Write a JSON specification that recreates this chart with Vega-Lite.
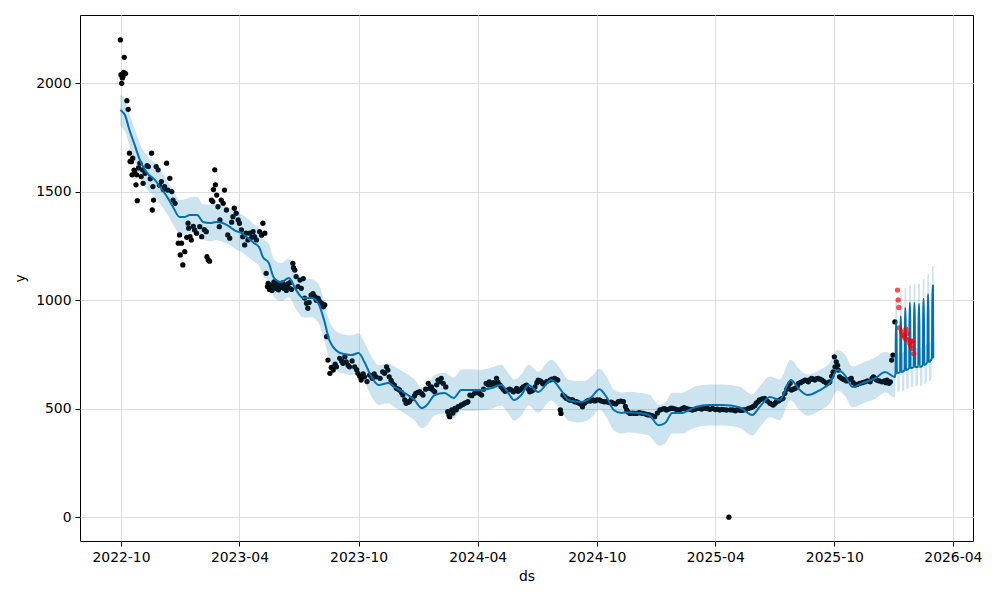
{
"$schema": "https://vega.github.io/schema/vega-lite/v6.json",
"width": 893, "height": 526,
"autosize": {"type": "none"},
"padding": {"left": 80, "top": 15, "right": 27, "bottom": 59},
"background": "white",
"config": {
  "view": {"stroke": "black", "strokeWidth": 1},
  "font": "DejaVu Sans",
  "axis": {"domain": false, "grid": true, "gridColor": "#dedede", "gridWidth": 1, "tickColor": "black", "tickSize": 5, "tickWidth": 1, "labelFont": "DejaVu Sans", "labelFontSize": 13.9, "labelColor": "black", "titleFont": "DejaVu Sans", "titleFontSize": 13.9, "titleFontWeight": "normal", "titleColor": "black", "labelPadding": 4}
},
"datasets": {
"hist": [
{"ds":"2022-09-30","y":2200},{"ds":"2022-10-01","y":2040},{"ds":"2022-10-02","y":2000},{"ds":"2022-10-03","y":2025},{"ds":"2022-10-04","y":2030},{"ds":"2022-10-05","y":2050},{"ds":"2022-10-06","y":2120},{"ds":"2022-10-08","y":2045},{"ds":"2022-10-10","y":1920},{"ds":"2022-10-12","y":1880},
{"ds":"2022-10-14","y":1678},{"ds":"2022-10-15","y":1640},{"ds":"2022-10-17","y":1639},{"ds":"2022-10-18","y":1578},{"ds":"2022-10-19","y":1655},{"ds":"2022-10-21","y":1600},{"ds":"2022-10-22","y":1593},{"ds":"2022-10-24","y":1532},{"ds":"2022-10-25","y":1578},{"ds":"2022-10-26","y":1459},{"ds":"2022-10-28","y":1610},{"ds":"2022-10-30","y":1632},
{"ds":"2022-11-01","y":1570},{"ds":"2022-11-03","y":1601},{"ds":"2022-11-04","y":1539},{"ds":"2022-11-07","y":1585},{"ds":"2022-11-10","y":1620},{"ds":"2022-11-12","y":1616},{"ds":"2022-11-15","y":1560},{"ds":"2022-11-17","y":1678},{"ds":"2022-11-18","y":1416},{"ds":"2022-11-19","y":1524},{"ds":"2022-11-20","y":1462},{"ds":"2022-11-24","y":1616},{"ds":"2022-11-27","y":1601},{"ds":"2022-11-29","y":1530},
{"ds":"2022-12-02","y":1547},{"ds":"2022-12-05","y":1510},{"ds":"2022-12-07","y":1524},{"ds":"2022-12-10","y":1632},{"ds":"2022-12-12","y":1508},{"ds":"2022-12-15","y":1562},{"ds":"2022-12-18","y":1501},{"ds":"2022-12-20","y":1462},{"ds":"2022-12-23","y":1447},{"ds":"2022-12-28","y":1263},{"ds":"2022-12-30","y":1301},{"ds":"2022-12-31","y":1209},
{"ds":"2023-01-02","y":1263},{"ds":"2023-01-04","y":1163},{"ds":"2023-01-07","y":1224},{"ds":"2023-01-10","y":1290},{"ds":"2023-01-12","y":1355},{"ds":"2023-01-13","y":1332},{"ds":"2023-01-15","y":1293},{"ds":"2023-01-17","y":1278},{"ds":"2023-01-20","y":1340},{"ds":"2023-01-22","y":1324},{"ds":"2023-01-25","y":1309},{"ds":"2023-01-30","y":1339},
{"ds":"2023-02-02","y":1293},{"ds":"2023-02-06","y":1325},{"ds":"2023-02-09","y":1316},{"ds":"2023-02-10","y":1201},{"ds":"2023-02-12","y":1186},{"ds":"2023-02-14","y":1180},{"ds":"2023-02-17","y":1462},{"ds":"2023-02-19","y":1455},{"ds":"2023-02-20","y":1510},{"ds":"2023-02-22","y":1601},{"ds":"2023-02-23","y":1532},{"ds":"2023-02-25","y":1485},{"ds":"2023-02-27","y":1431},
{"ds":"2023-03-01","y":1339},{"ds":"2023-03-02","y":1370},{"ds":"2023-03-04","y":1462},{"ds":"2023-03-07","y":1447},{"ds":"2023-03-09","y":1508},{"ds":"2023-03-12","y":1416},{"ds":"2023-03-14","y":1301},{"ds":"2023-03-17","y":1286},{"ds":"2023-03-20","y":1360},{"ds":"2023-03-22","y":1385},{"ds":"2023-03-24","y":1424},{"ds":"2023-03-27","y":1401},{"ds":"2023-03-30","y":1370},
{"ds":"2023-04-01","y":1355},{"ds":"2023-04-04","y":1324},{"ds":"2023-04-06","y":1293},{"ds":"2023-04-09","y":1255},{"ds":"2023-04-11","y":1309},{"ds":"2023-04-14","y":1278},{"ds":"2023-04-17","y":1309},{"ds":"2023-04-20","y":1290},{"ds":"2023-04-22","y":1316},{"ds":"2023-04-24","y":1293},{"ds":"2023-04-27","y":1278},
{"ds":"2023-05-02","y":1316},{"ds":"2023-05-05","y":1300},{"ds":"2023-05-07","y":1355},{"ds":"2023-05-10","y":1309},{"ds":"2023-05-12","y":1124},{"ds":"2023-05-14","y":1063},{"ds":"2023-05-15","y":1078},{"ds":"2023-05-17","y":1050},{"ds":"2023-05-19","y":1070},{"ds":"2023-05-21","y":1045},{"ds":"2023-05-22","y":1063},{"ds":"2023-05-24","y":1085},{"ds":"2023-05-26","y":1055},{"ds":"2023-05-27","y":1078},{"ds":"2023-05-29","y":1068},{"ds":"2023-05-31","y":1048},
{"ds":"2023-06-02","y":1072},{"ds":"2023-06-04","y":1060},{"ds":"2023-06-06","y":1080},{"ds":"2023-06-08","y":1055},{"ds":"2023-06-10","y":1066},{"ds":"2023-06-12","y":1045},{"ds":"2023-06-14","y":1075},{"ds":"2023-06-16","y":1058},{"ds":"2023-06-18","y":1082},{"ds":"2023-06-20","y":1050},{"ds":"2023-06-22","y":1170},{"ds":"2023-06-23","y":1150},{"ds":"2023-06-25","y":1139},{"ds":"2023-06-27","y":1109},{"ds":"2023-06-30","y":1063},
{"ds":"2023-07-03","y":1093},{"ds":"2023-07-05","y":1055},{"ds":"2023-07-08","y":1100},{"ds":"2023-07-10","y":1010},{"ds":"2023-07-13","y":986},{"ds":"2023-07-15","y":963},{"ds":"2023-07-17","y":990},{"ds":"2023-07-20","y":1024},{"ds":"2023-07-23","y":1030},{"ds":"2023-07-26","y":1016},{"ds":"2023-07-28","y":1000},{"ds":"2023-07-31","y":1009},
{"ds":"2023-08-02","y":995},{"ds":"2023-08-05","y":986},{"ds":"2023-08-08","y":970},{"ds":"2023-08-10","y":978},{"ds":"2023-08-13","y":832},{"ds":"2023-08-15","y":724},{"ds":"2023-08-18","y":663},{"ds":"2023-08-20","y":690},{"ds":"2023-08-23","y":678},{"ds":"2023-08-26","y":705},{"ds":"2023-08-28","y":693},
{"ds":"2023-09-02","y":732},{"ds":"2023-09-05","y":720},{"ds":"2023-09-07","y":709},{"ds":"2023-09-10","y":740},{"ds":"2023-09-12","y":716},{"ds":"2023-09-15","y":700},{"ds":"2023-09-17","y":693},{"ds":"2023-09-21","y":720},{"ds":"2023-09-25","y":693},{"ds":"2023-09-28","y":680},{"ds":"2023-09-30","y":663},
{"ds":"2023-10-03","y":650},{"ds":"2023-10-05","y":632},{"ds":"2023-10-08","y":660},{"ds":"2023-10-10","y":647},{"ds":"2023-10-14","y":625},{"ds":"2023-10-18","y":655},{"ds":"2023-10-22","y":640},{"ds":"2023-10-25","y":660},{"ds":"2023-10-28","y":647},
{"ds":"2023-11-03","y":640},{"ds":"2023-11-07","y":670},{"ds":"2023-11-10","y":663},{"ds":"2023-11-13","y":693},{"ds":"2023-11-15","y":678},{"ds":"2023-11-17","y":647},{"ds":"2023-11-20","y":630},{"ds":"2023-11-22","y":617},{"ds":"2023-11-25","y":609},{"ds":"2023-11-28","y":594},
{"ds":"2023-12-01","y":590},{"ds":"2023-12-03","y":586},{"ds":"2023-12-06","y":575},{"ds":"2023-12-08","y":563},{"ds":"2023-12-11","y":540},{"ds":"2023-12-13","y":525},{"ds":"2023-12-16","y":530},{"ds":"2023-12-18","y":532},{"ds":"2023-12-21","y":545},{"ds":"2023-12-23","y":548},{"ds":"2023-12-26","y":560},{"ds":"2023-12-28","y":571},{"ds":"2023-12-31","y":575},
{"ds":"2024-01-03","y":578},{"ds":"2024-01-06","y":570},{"ds":"2024-01-08","y":563},{"ds":"2024-01-12","y":590},{"ds":"2024-01-16","y":617},{"ds":"2024-01-18","y":594},{"ds":"2024-01-21","y":600},{"ds":"2024-01-23","y":586},{"ds":"2024-01-26","y":578},{"ds":"2024-01-29","y":610},{"ds":"2024-01-31","y":632},
{"ds":"2024-02-03","y":625},{"ds":"2024-02-05","y":640},{"ds":"2024-02-08","y":617},{"ds":"2024-02-12","y":600},{"ds":"2024-02-15","y":486},{"ds":"2024-02-17","y":470},{"ds":"2024-02-18","y":463},{"ds":"2024-02-21","y":494},{"ds":"2024-02-23","y":480},{"ds":"2024-02-26","y":501},{"ds":"2024-02-28","y":495},
{"ds":"2024-03-02","y":509},{"ds":"2024-03-05","y":512},{"ds":"2024-03-07","y":517},{"ds":"2024-03-10","y":520},{"ds":"2024-03-12","y":525},{"ds":"2024-03-15","y":528},{"ds":"2024-03-17","y":532},{"ds":"2024-03-20","y":563},{"ds":"2024-03-23","y":560},{"ds":"2024-03-27","y":571},{"ds":"2024-03-30","y":575},
{"ds":"2024-04-01","y":578},{"ds":"2024-04-04","y":570},{"ds":"2024-04-07","y":563},{"ds":"2024-04-10","y":590},{"ds":"2024-04-14","y":617},{"ds":"2024-04-17","y":610},{"ds":"2024-04-19","y":624},{"ds":"2024-04-22","y":610},{"ds":"2024-04-25","y":620},{"ds":"2024-04-27","y":617},{"ds":"2024-04-30","y":640},
{"ds":"2024-05-02","y":624},{"ds":"2024-05-05","y":610},{"ds":"2024-05-07","y":601},{"ds":"2024-05-10","y":590},{"ds":"2024-05-13","y":580},{"ds":"2024-05-17","y":585},{"ds":"2024-05-20","y":590},{"ds":"2024-05-23","y":586},{"ds":"2024-05-26","y":578},{"ds":"2024-05-31","y":594},
{"ds":"2024-06-02","y":580},{"ds":"2024-06-05","y":586},{"ds":"2024-06-08","y":595},{"ds":"2024-06-10","y":601},{"ds":"2024-06-13","y":605},{"ds":"2024-06-15","y":609},{"ds":"2024-06-18","y":590},{"ds":"2024-06-20","y":578},{"ds":"2024-06-23","y":582},{"ds":"2024-06-25","y":586},{"ds":"2024-06-28","y":600},
{"ds":"2024-07-01","y":620},{"ds":"2024-07-03","y":632},{"ds":"2024-07-06","y":628},{"ds":"2024-07-08","y":624},{"ds":"2024-07-10","y":615},{"ds":"2024-07-13","y":617},{"ds":"2024-07-16","y":625},{"ds":"2024-07-21","y":632},{"ds":"2024-07-24","y":636},{"ds":"2024-07-28","y":640},{"ds":"2024-07-31","y":635},
{"ds":"2024-08-02","y":632},{"ds":"2024-08-06","y":494},{"ds":"2024-08-07","y":478},{"ds":"2024-08-10","y":563},{"ds":"2024-08-13","y":555},{"ds":"2024-08-15","y":548},{"ds":"2024-08-18","y":545},{"ds":"2024-08-20","y":540},{"ds":"2024-08-23","y":540},{"ds":"2024-08-25","y":540},{"ds":"2024-08-28","y":532},{"ds":"2024-08-31","y":532},
{"ds":"2024-09-02","y":528},{"ds":"2024-09-04","y":525},{"ds":"2024-09-07","y":520},{"ds":"2024-09-09","y":509},{"ds":"2024-09-12","y":525},{"ds":"2024-09-15","y":532},{"ds":"2024-09-18","y":538},{"ds":"2024-09-21","y":535},{"ds":"2024-09-25","y":540},{"ds":"2024-09-28","y":536},
{"ds":"2024-10-01","y":540},{"ds":"2024-10-05","y":540},{"ds":"2024-10-08","y":535},{"ds":"2024-10-12","y":532},{"ds":"2024-10-16","y":532},{"ds":"2024-10-20","y":528},{"ds":"2024-10-23","y":530},{"ds":"2024-10-26","y":525},{"ds":"2024-10-30","y":522},
{"ds":"2024-11-03","y":532},{"ds":"2024-11-07","y":535},{"ds":"2024-11-11","y":532},{"ds":"2024-11-14","y":510},{"ds":"2024-11-16","y":494},{"ds":"2024-11-18","y":485},{"ds":"2024-11-21","y":478},{"ds":"2024-11-25","y":480},{"ds":"2024-11-28","y":478},
{"ds":"2024-12-01","y":478},{"ds":"2024-12-05","y":482},{"ds":"2024-12-08","y":480},{"ds":"2024-12-11","y":478},{"ds":"2024-12-15","y":475},{"ds":"2024-12-18","y":472},{"ds":"2024-12-21","y":471},{"ds":"2024-12-25","y":468},{"ds":"2024-12-29","y":463},
{"ds":"2025-01-02","y":480},{"ds":"2025-01-06","y":494},{"ds":"2025-01-10","y":498},{"ds":"2025-01-13","y":500},{"ds":"2025-01-16","y":494},{"ds":"2025-01-20","y":498},{"ds":"2025-01-23","y":503},{"ds":"2025-01-26","y":501},{"ds":"2025-01-30","y":498},
{"ds":"2025-02-02","y":495},{"ds":"2025-02-05","y":494},{"ds":"2025-02-09","y":500},{"ds":"2025-02-12","y":505},{"ds":"2025-02-15","y":501},{"ds":"2025-02-19","y":498},{"ds":"2025-02-22","y":496},{"ds":"2025-02-25","y":494},
{"ds":"2025-03-01","y":497},{"ds":"2025-03-04","y":501},{"ds":"2025-03-08","y":501},{"ds":"2025-03-11","y":498},{"ds":"2025-03-14","y":503},{"ds":"2025-03-18","y":501},{"ds":"2025-03-21","y":500},{"ds":"2025-03-24","y":497},{"ds":"2025-03-28","y":501},
{"ds":"2025-04-01","y":496},{"ds":"2025-04-04","y":498},{"ds":"2025-04-08","y":494},{"ds":"2025-04-11","y":497},{"ds":"2025-04-14","y":496},{"ds":"2025-04-18","y":494},{"ds":"2025-04-22","y":0},{"ds":"2025-04-24","y":495},{"ds":"2025-04-28","y":494},
{"ds":"2025-05-02","y":490},{"ds":"2025-05-05","y":496},{"ds":"2025-05-08","y":494},{"ds":"2025-05-11","y":492},{"ds":"2025-05-14","y":494},{"ds":"2025-05-18","y":496},{"ds":"2025-05-22","y":501},{"ds":"2025-05-26","y":505},{"ds":"2025-05-29","y":509},
{"ds":"2025-06-01","y":515},{"ds":"2025-06-03","y":525},{"ds":"2025-06-06","y":532},{"ds":"2025-06-08","y":540},{"ds":"2025-06-12","y":545},{"ds":"2025-06-16","y":548},{"ds":"2025-06-20","y":535},{"ds":"2025-06-24","y":525},{"ds":"2025-06-27","y":520},{"ds":"2025-06-29","y":517},
{"ds":"2025-07-02","y":525},{"ds":"2025-07-04","y":532},{"ds":"2025-07-07","y":536},{"ds":"2025-07-09","y":540},{"ds":"2025-07-12","y":545},{"ds":"2025-07-14","y":548},{"ds":"2025-07-17","y":571},{"ds":"2025-07-20","y":590},{"ds":"2025-07-22","y":601},{"ds":"2025-07-25","y":617},{"ds":"2025-07-27","y":586},{"ds":"2025-07-30","y":590},
{"ds":"2025-08-02","y":594},{"ds":"2025-08-05","y":605},{"ds":"2025-08-07","y":617},{"ds":"2025-08-10","y":620},{"ds":"2025-08-12","y":624},{"ds":"2025-08-15","y":628},{"ds":"2025-08-17","y":632},{"ds":"2025-08-20","y":630},{"ds":"2025-08-22","y":624},{"ds":"2025-08-25","y":635},{"ds":"2025-08-27","y":640},{"ds":"2025-08-30","y":636},
{"ds":"2025-09-01","y":632},{"ds":"2025-09-04","y":638},{"ds":"2025-09-06","y":640},{"ds":"2025-09-09","y":636},{"ds":"2025-09-12","y":632},{"ds":"2025-09-15","y":625},{"ds":"2025-09-19","y":617},{"ds":"2025-09-22","y":620},{"ds":"2025-09-24","y":624},{"ds":"2025-09-27","y":650},{"ds":"2025-09-29","y":670},
{"ds":"2025-10-01","y":739},{"ds":"2025-10-02","y":693},{"ds":"2025-10-04","y":716},{"ds":"2025-10-06","y":700},{"ds":"2025-10-07","y":678},{"ds":"2025-10-09","y":647},{"ds":"2025-10-12","y":640},{"ds":"2025-10-15","y":635},{"ds":"2025-10-17","y":632},{"ds":"2025-10-20","y":628},{"ds":"2025-10-22","y":632},{"ds":"2025-10-25","y":636},{"ds":"2025-10-27","y":640},{"ds":"2025-10-30","y":620},
{"ds":"2025-11-02","y":609},{"ds":"2025-11-05","y":612},{"ds":"2025-11-09","y":617},{"ds":"2025-11-13","y":620},{"ds":"2025-11-17","y":624},{"ds":"2025-11-21","y":628},{"ds":"2025-11-25","y":624},{"ds":"2025-11-28","y":640},{"ds":"2025-11-30","y":647},
{"ds":"2025-12-03","y":640},{"ds":"2025-12-05","y":632},{"ds":"2025-12-09","y":628},{"ds":"2025-12-13","y":624},{"ds":"2025-12-17","y":628},{"ds":"2025-12-19","y":620},{"ds":"2025-12-21","y":632},{"ds":"2025-12-24","y":617},{"ds":"2025-12-26","y":624},{"ds":"2025-12-28","y":724},{"ds":"2025-12-30","y":747},{"ds":"2026-01-02","y":900}
],
"fc": [
{"ds":"2022-09-30","yhat":1877},{"ds":"2022-10-02","yhat":1872},{"ds":"2022-10-07","yhat":1854},{"ds":"2022-10-14","yhat":1785},{"ds":"2022-10-22","yhat":1716},{"ds":"2022-10-30","yhat":1647},
{"ds":"2022-11-10","yhat":1587},{"ds":"2022-11-22","yhat":1555},{"ds":"2022-11-30","yhat":1522},{"ds":"2022-12-11","yhat":1476},{"ds":"2022-12-20","yhat":1430},{"ds":"2022-12-30","yhat":1384},
{"ds":"2023-01-07","yhat":1384},{"ds":"2023-01-15","yhat":1393},{"ds":"2023-01-26","yhat":1393},{"ds":"2023-02-04","yhat":1361},{"ds":"2023-02-15","yhat":1356},{"ds":"2023-02-24","yhat":1361},
{"ds":"2023-03-06","yhat":1356},{"ds":"2023-03-15","yhat":1343},{"ds":"2023-03-26","yhat":1320},{"ds":"2023-04-04","yhat":1310},{"ds":"2023-04-14","yhat":1287},{"ds":"2023-04-23","yhat":1264},
{"ds":"2023-05-01","yhat":1246},{"ds":"2023-05-07","yhat":1199},{"ds":"2023-05-16","yhat":1172},{"ds":"2023-05-24","yhat":1103},{"ds":"2023-06-04","yhat":1084},{"ds":"2023-06-16","yhat":1103},
{"ds":"2023-06-27","yhat":1047},{"ds":"2023-07-08","yhat":1010},{"ds":"2023-07-20","yhat":1010},{"ds":"2023-07-31","yhat":987},{"ds":"2023-08-09","yhat":909},{"ds":"2023-08-17","yhat":817},
{"ds":"2023-08-31","yhat":761},{"ds":"2023-09-09","yhat":752},{"ds":"2023-09-20","yhat":747},{"ds":"2023-10-01","yhat":757},{"ds":"2023-10-10","yhat":715},{"ds":"2023-10-21","yhat":646},
{"ds":"2023-11-01","yhat":609},{"ds":"2023-11-16","yhat":618},{"ds":"2023-11-25","yhat":600},{"ds":"2023-12-11","yhat":572},{"ds":"2023-12-26","yhat":540},
{"ds":"2024-01-06","yhat":503},{"ds":"2024-01-14","yhat":517},{"ds":"2024-01-26","yhat":563},{"ds":"2024-02-10","yhat":572},{"ds":"2024-02-24","yhat":549},{"ds":"2024-03-07","yhat":586},
{"ds":"2024-03-22","yhat":586},{"ds":"2024-04-06","yhat":586},{"ds":"2024-04-22","yhat":595},{"ds":"2024-05-07","yhat":609},{"ds":"2024-05-18","yhat":572},{"ds":"2024-05-27","yhat":540},
{"ds":"2024-06-07","yhat":563},{"ds":"2024-06-18","yhat":609},{"ds":"2024-07-03","yhat":577},{"ds":"2024-07-23","yhat":632},{"ds":"2024-08-07","yhat":586},{"ds":"2024-08-18","yhat":540},
{"ds":"2024-09-07","yhat":531},{"ds":"2024-09-23","yhat":554},{"ds":"2024-10-05","yhat":590},{"ds":"2024-10-16","yhat":554},{"ds":"2024-10-27","yhat":494},{"ds":"2024-11-08","yhat":480},
{"ds":"2024-11-19","yhat":484},{"ds":"2024-12-04","yhat":480},{"ds":"2024-12-20","yhat":471},{"ds":"2025-01-04","yhat":424},{"ds":"2025-01-14","yhat":434},{"ds":"2025-01-25","yhat":480},
{"ds":"2025-02-09","yhat":480},{"ds":"2025-02-20","yhat":494},{"ds":"2025-03-01","yhat":507},{"ds":"2025-03-23","yhat":517},{"ds":"2025-04-12","yhat":517},{"ds":"2025-05-08","yhat":507},
{"ds":"2025-05-28","yhat":471},{"ds":"2025-06-08","yhat":507},{"ds":"2025-06-24","yhat":554},{"ds":"2025-07-09","yhat":540},{"ds":"2025-07-26","yhat":632},{"ds":"2025-08-09","yhat":586},
{"ds":"2025-08-21","yhat":563},{"ds":"2025-09-09","yhat":586},{"ds":"2025-09-24","yhat":618},{"ds":"2025-10-06","yhat":678},{"ds":"2025-10-17","yhat":655},{"ds":"2025-10-29","yhat":600},
{"ds":"2025-11-13","yhat":618},{"ds":"2025-12-03","yhat":641},{"ds":"2025-12-18","yhat":669},{"ds":"2026-01-02","yhat":646},
{"ds":"2026-01-03T00:00:00Z","yhat":664},{"ds":"2026-01-03T12:00:00Z","yhat":901},{"ds":"2026-01-04T12:00:00Z","yhat":901},{"ds":"2026-01-05T00:00:00Z","yhat":664},
{"ds":"2026-01-10T00:00:00Z","yhat":669},{"ds":"2026-01-10T12:00:00Z","yhat":924},{"ds":"2026-01-11T12:00:00Z","yhat":924},{"ds":"2026-01-12T00:00:00Z","yhat":669},
{"ds":"2026-01-17T00:00:00Z","yhat":678},{"ds":"2026-01-17T12:00:00Z","yhat":963},{"ds":"2026-01-18T12:00:00Z","yhat":963},{"ds":"2026-01-19T00:00:00Z","yhat":678},
{"ds":"2026-01-24T00:00:00Z","yhat":687},{"ds":"2026-01-24T12:00:00Z","yhat":986},{"ds":"2026-01-25T12:00:00Z","yhat":986},{"ds":"2026-01-26T00:00:00Z","yhat":687},
{"ds":"2026-01-31T00:00:00Z","yhat":692},{"ds":"2026-01-31T12:00:00Z","yhat":986},{"ds":"2026-02-01T12:00:00Z","yhat":986},{"ds":"2026-02-02T00:00:00Z","yhat":692},
{"ds":"2026-02-07T00:00:00Z","yhat":692},{"ds":"2026-02-07T12:00:00Z","yhat":981},{"ds":"2026-02-08T12:00:00Z","yhat":981},{"ds":"2026-02-09T00:00:00Z","yhat":692},
{"ds":"2026-02-14T00:00:00Z","yhat":701},{"ds":"2026-02-14T12:00:00Z","yhat":1006},{"ds":"2026-02-15T12:00:00Z","yhat":1006},{"ds":"2026-02-16T00:00:00Z","yhat":701},
{"ds":"2026-02-21T00:00:00Z","yhat":715},{"ds":"2026-02-21T12:00:00Z","yhat":1027},{"ds":"2026-02-22T12:00:00Z","yhat":1027},{"ds":"2026-02-23T00:00:00Z","yhat":715},
{"ds":"2026-02-28T00:00:00Z","yhat":733},{"ds":"2026-02-28T12:00:00Z","yhat":1067},{"ds":"2026-03-01T12:00:00Z","yhat":1067},{"ds":"2026-03-02T00:00:00Z","yhat":733}
],
"band": [
{"ds":"2022-09-30","lo":1805,"hi":1948},{"ds":"2022-10-02","lo":1798,"hi":1942},{"ds":"2022-10-07","lo":1780,"hi":1925},{"ds":"2022-10-14","lo":1712,"hi":1858},{"ds":"2022-10-22","lo":1640,"hi":1790},{"ds":"2022-10-30","lo":1572,"hi":1722},
{"ds":"2022-11-10","lo":1510,"hi":1665},{"ds":"2022-11-22","lo":1478,"hi":1632},{"ds":"2022-11-30","lo":1445,"hi":1600},{"ds":"2022-12-11","lo":1398,"hi":1552},{"ds":"2022-12-20","lo":1350,"hi":1508},{"ds":"2022-12-30","lo":1305,"hi":1462},
{"ds":"2023-01-07","lo":1302,"hi":1465},{"ds":"2023-01-15","lo":1310,"hi":1474},{"ds":"2023-01-26","lo":1312,"hi":1476},{"ds":"2023-02-04","lo":1280,"hi":1442},{"ds":"2023-02-15","lo":1272,"hi":1440},{"ds":"2023-02-24","lo":1276,"hi":1446},
{"ds":"2023-03-06","lo":1270,"hi":1440},{"ds":"2023-03-15","lo":1258,"hi":1428},{"ds":"2023-03-26","lo":1235,"hi":1404},{"ds":"2023-04-04","lo":1222,"hi":1396},{"ds":"2023-04-14","lo":1200,"hi":1374},{"ds":"2023-04-23","lo":1178,"hi":1350},
{"ds":"2023-05-01","lo":1160,"hi":1334},{"ds":"2023-05-07","lo":1112,"hi":1285},{"ds":"2023-05-16","lo":1085,"hi":1260},{"ds":"2023-05-24","lo":1015,"hi":1190},{"ds":"2023-06-04","lo":996,"hi":1172},{"ds":"2023-06-16","lo":1014,"hi":1192},
{"ds":"2023-06-27","lo":958,"hi":1135},{"ds":"2023-07-08","lo":920,"hi":1100},{"ds":"2023-07-20","lo":922,"hi":1098},{"ds":"2023-07-31","lo":898,"hi":1076},{"ds":"2023-08-09","lo":820,"hi":998},{"ds":"2023-08-17","lo":728,"hi":906},
{"ds":"2023-08-31","lo":672,"hi":850},{"ds":"2023-09-09","lo":662,"hi":842},{"ds":"2023-09-20","lo":655,"hi":838},{"ds":"2023-10-01","lo":666,"hi":848},{"ds":"2023-10-10","lo":624,"hi":806},{"ds":"2023-10-21","lo":555,"hi":738},
{"ds":"2023-11-01","lo":518,"hi":700},{"ds":"2023-11-16","lo":525,"hi":710},{"ds":"2023-11-25","lo":508,"hi":694},{"ds":"2023-12-11","lo":478,"hi":666},{"ds":"2023-12-26","lo":446,"hi":634},
{"ds":"2024-01-06","lo":410,"hi":596},{"ds":"2024-01-14","lo":424,"hi":610},{"ds":"2024-01-26","lo":470,"hi":656},{"ds":"2024-02-10","lo":478,"hi":666},{"ds":"2024-02-24","lo":455,"hi":643},{"ds":"2024-03-07","lo":492,"hi":680},
{"ds":"2024-03-22","lo":490,"hi":682},{"ds":"2024-04-06","lo":492,"hi":680},{"ds":"2024-04-22","lo":500,"hi":690},{"ds":"2024-05-07","lo":515,"hi":703},{"ds":"2024-05-18","lo":478,"hi":666},{"ds":"2024-05-27","lo":446,"hi":634},
{"ds":"2024-06-07","lo":468,"hi":658},{"ds":"2024-06-18","lo":515,"hi":703},{"ds":"2024-07-03","lo":482,"hi":672},{"ds":"2024-07-23","lo":538,"hi":726},{"ds":"2024-08-07","lo":490,"hi":680},{"ds":"2024-08-18","lo":446,"hi":634},
{"ds":"2024-09-07","lo":436,"hi":626},{"ds":"2024-09-23","lo":460,"hi":648},{"ds":"2024-10-05","lo":496,"hi":684},{"ds":"2024-10-16","lo":460,"hi":648},{"ds":"2024-10-27","lo":400,"hi":588},{"ds":"2024-11-08","lo":386,"hi":574},
{"ds":"2024-11-19","lo":390,"hi":578},{"ds":"2024-12-04","lo":386,"hi":574},{"ds":"2024-12-20","lo":376,"hi":566},{"ds":"2025-01-04","lo":330,"hi":518},{"ds":"2025-01-14","lo":340,"hi":528},{"ds":"2025-01-25","lo":386,"hi":574},
{"ds":"2025-02-09","lo":386,"hi":574},{"ds":"2025-02-20","lo":400,"hi":588},{"ds":"2025-03-01","lo":412,"hi":602},{"ds":"2025-03-23","lo":422,"hi":612},{"ds":"2025-04-12","lo":422,"hi":612},{"ds":"2025-05-08","lo":412,"hi":602},
{"ds":"2025-05-28","lo":376,"hi":566},{"ds":"2025-06-08","lo":412,"hi":602},{"ds":"2025-06-24","lo":460,"hi":648},{"ds":"2025-07-09","lo":446,"hi":634},{"ds":"2025-07-26","lo":538,"hi":726},{"ds":"2025-08-09","lo":492,"hi":680},
{"ds":"2025-08-21","lo":468,"hi":658},{"ds":"2025-09-09","lo":492,"hi":680},{"ds":"2025-09-24","lo":524,"hi":712},{"ds":"2025-10-06","lo":584,"hi":772},{"ds":"2025-10-17","lo":560,"hi":750},{"ds":"2025-10-29","lo":506,"hi":694},
{"ds":"2025-11-13","lo":524,"hi":712},{"ds":"2025-12-03","lo":546,"hi":736},{"ds":"2025-12-18","lo":575,"hi":763},{"ds":"2026-01-02","lo":552,"hi":740},
{"ds":"2026-01-02T12:00:00Z","lo":576,"hi":752},{"ds":"2026-01-03T00:00:00Z","lo":811,"hi":996},{"ds":"2026-01-05T12:00:00Z","lo":811,"hi":996},{"ds":"2026-01-06T00:00:00Z","lo":576,"hi":752},
{"ds":"2026-01-09T12:00:00Z","lo":581,"hi":757},{"ds":"2026-01-10T00:00:00Z","lo":834,"hi":1030},{"ds":"2026-01-12T12:00:00Z","lo":834,"hi":1030},{"ds":"2026-01-13T00:00:00Z","lo":581,"hi":757},
{"ds":"2026-01-16T12:00:00Z","lo":590,"hi":766},{"ds":"2026-01-17T00:00:00Z","lo":873,"hi":1056},{"ds":"2026-01-19T12:00:00Z","lo":873,"hi":1056},{"ds":"2026-01-20T00:00:00Z","lo":590,"hi":766},
{"ds":"2026-01-23T12:00:00Z","lo":599,"hi":775},{"ds":"2026-01-24T00:00:00Z","lo":896,"hi":1070},{"ds":"2026-01-26T12:00:00Z","lo":896,"hi":1070},{"ds":"2026-01-27T00:00:00Z","lo":599,"hi":775},
{"ds":"2026-01-30T12:00:00Z","lo":604,"hi":780},{"ds":"2026-01-31T00:00:00Z","lo":896,"hi":1075},{"ds":"2026-02-02T12:00:00Z","lo":896,"hi":1075},{"ds":"2026-02-03T00:00:00Z","lo":604,"hi":780},
{"ds":"2026-02-06T12:00:00Z","lo":604,"hi":780},{"ds":"2026-02-07T00:00:00Z","lo":891,"hi":1075},{"ds":"2026-02-09T12:00:00Z","lo":891,"hi":1075},{"ds":"2026-02-10T00:00:00Z","lo":604,"hi":780},
{"ds":"2026-02-13T12:00:00Z","lo":613,"hi":789},{"ds":"2026-02-14T00:00:00Z","lo":916,"hi":1098},{"ds":"2026-02-16T12:00:00Z","lo":916,"hi":1098},{"ds":"2026-02-17T00:00:00Z","lo":613,"hi":789},
{"ds":"2026-02-20T12:00:00Z","lo":627,"hi":803},{"ds":"2026-02-21T00:00:00Z","lo":937,"hi":1120},{"ds":"2026-02-23T12:00:00Z","lo":937,"hi":1120},{"ds":"2026-02-24T00:00:00Z","lo":627,"hi":803},
{"ds":"2026-02-27T12:00:00Z","lo":645,"hi":821},{"ds":"2026-02-28T00:00:00Z","lo":977,"hi":1158},{"ds":"2026-03-02T12:00:00Z","lo":977,"hi":1158},{"ds":"2026-03-03T00:00:00Z","lo":645,"hi":821}
],
"test": [
{"ds":"2026-01-06","y":1047},{"ds":"2026-01-07","y":1001},{"ds":"2026-01-08","y":967},{"ds":"2026-01-09","y":873},{"ds":"2026-01-12","y":855},{"ds":"2026-01-14","y":836},{"ds":"2026-01-17","y":840},{"ds":"2026-01-18","y":824},{"ds":"2026-01-19","y":867},{"ds":"2026-01-21","y":847},{"ds":"2026-01-22","y":817},{"ds":"2026-01-25","y":801},{"ds":"2026-01-26","y":790},{"ds":"2026-01-27","y":812},{"ds":"2026-01-28","y":778},{"ds":"2026-01-29","y":809},{"ds":"2026-01-31","y":753}
]
},
"layer": [
{"data": {"name": "hist"}, "mark": {"type": "circle", "color": "black", "size": 28, "opacity": 1},
 "encoding": {
  "x": {"field": "ds", "type": "temporal", "title": "ds",
        "scale": {"type": "utc", "domain": [{"year": 2022, "month": 7, "date": 30, "utc": true}, {"year": 2026, "month": 5, "date": 2, "utc": true}]},
        "axis": {"format": "%Y-%m", "labelAngle": 0, "labelFlush": false, "labelOverlap": false, "titlePadding": 6,
                 "values": [{"year": 2022, "month": 10, "date": 1, "utc": true}, {"year": 2023, "month": 4, "date": 1, "utc": true}, {"year": 2023, "month": 10, "date": 1, "utc": true}, {"year": 2024, "month": 4, "date": 1, "utc": true}, {"year": 2024, "month": 10, "date": 1, "utc": true}, {"year": 2025, "month": 4, "date": 1, "utc": true}, {"year": 2025, "month": 10, "date": 1, "utc": true}, {"year": 2026, "month": 4, "date": 1, "utc": true}]}},
  "y": {"field": "y", "type": "quantitative", "title": "y",
        "scale": {"domain": [-110, 2315], "nice": false, "zero": false},
        "axis": {"values": [0, 500, 1000, 1500, 2000], "format": "d", "titlePadding": 8}}
 }},
{"data": {"name": "fc"}, "mark": {"type": "line", "color": "#0072B2", "strokeWidth": 2, "interpolate": "monotone"},
 "encoding": {"x": {"field": "ds", "type": "temporal", "title": "ds"}, "y": {"field": "yhat", "type": "quantitative", "title": "y"}}},
{"data": {"name": "band"}, "mark": {"type": "area", "color": "#0072B2", "opacity": 0.2, "interpolate": "monotone"},
 "encoding": {"x": {"field": "ds", "type": "temporal", "title": "ds"}, "y": {"field": "hi", "type": "quantitative", "title": "y"}, "y2": {"field": "lo"}}},
{"data": {"name": "test"}, "mark": {"type": "circle", "color": "#ff0000", "size": 28, "opacity": 0.7},
 "encoding": {"x": {"field": "ds", "type": "temporal", "title": "ds"}, "y": {"field": "y", "type": "quantitative", "title": "y"}}}
]
}
